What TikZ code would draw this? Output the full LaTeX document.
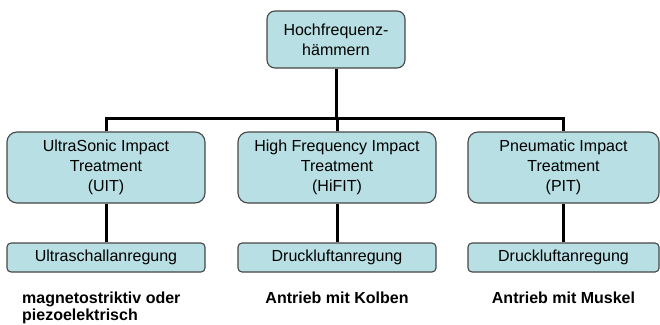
\documentclass[tikz,border=0pt]{standalone}
\usepackage{fontspec}
\setmainfont{Liberation Sans}
\definecolor{boxfill}{RGB}{184,223,227}
\definecolor{boxline}{RGB}{70,70,70}
\tikzset{
  methodbox/.style = {shape=rectangle, draw=boxline, line width=1.1pt,
                      fill=boxfill, align=center, inner sep=0pt,
                      font=\fontsize{16}{20}\selectfont},
  topbox/.style    = {methodbox, minimum width=138pt, minimum height=57pt,
                      rounded corners=8pt},
  mainbox/.style   = {methodbox, minimum width=198pt, minimum height=71pt,
                      rounded corners=10pt},
  drivebox/.style  = {methodbox, minimum width=198pt, minimum height=29pt,
                      rounded corners=4pt},
  note/.style      = {font=\fontsize{16}{17}\selectfont\bfseries, inner sep=0pt},
  conn/.style      = {line width=3pt}
}

\begin{document}
\begin{tikzpicture}[x=1pt,y=-1pt]
  \useasboundingbox (0,0) rectangle (660,324);

  \node [topbox] (hf) at (336,39.5) {Hochfrequenz-\\hämmern};

  \node [mainbox] (uit)   at (106,167.5) {UltraSonic Impact\\Treatment\\(UIT)};
  \node [mainbox] (hifit) at (337,167.5) {High Frequency Impact\\Treatment\\(HiFIT)};
  \node [mainbox, minimum width=191pt] (pit) at (563.5,167.5) {Pneumatic Impact\\Treatment\\(PIT)};

  \node [drivebox] (uitdrive)   at (106,257.5) {Ultraschallanregung};
  \node [drivebox] (hifitdrive) at (337,257.5) {Druckluftanregung};
  \node [drivebox, minimum width=191pt] (pitdrive) at (563.5,257.5) {Druckluftanregung};

  \node [note, anchor=base west, align=left] (uitnote) at (22,303.7)
    {magnetostriktiv oder};
  \node [note, anchor=base west] (uitnote2) at (22,320.7) {piezoelektrisch};
  \node [note, anchor=base] (hifitnote) at (337,303.7) {Antrieb mit Kolben};
  \node [note, anchor=base] (pitnote)   at (563.5,303.7) {Antrieb mit Muskel};

  % tree lines
  \coordinate (bar) at (0,118);
  \draw [conn] (hf.south) -- (hf.south |- bar);
  \draw [conn] (uit.north) -- (uit.north |- bar) -| (pit.north);
  \draw [conn] (hifit.north) -- (hifit.north |- bar);
  \draw [conn] (uit.south) -- (uitdrive.north);
  \draw [conn] (hifit.south) -- (hifitdrive.north);
  \draw [conn] (pit.south) -- (pitdrive.north);
\end{tikzpicture}
\end{document}
